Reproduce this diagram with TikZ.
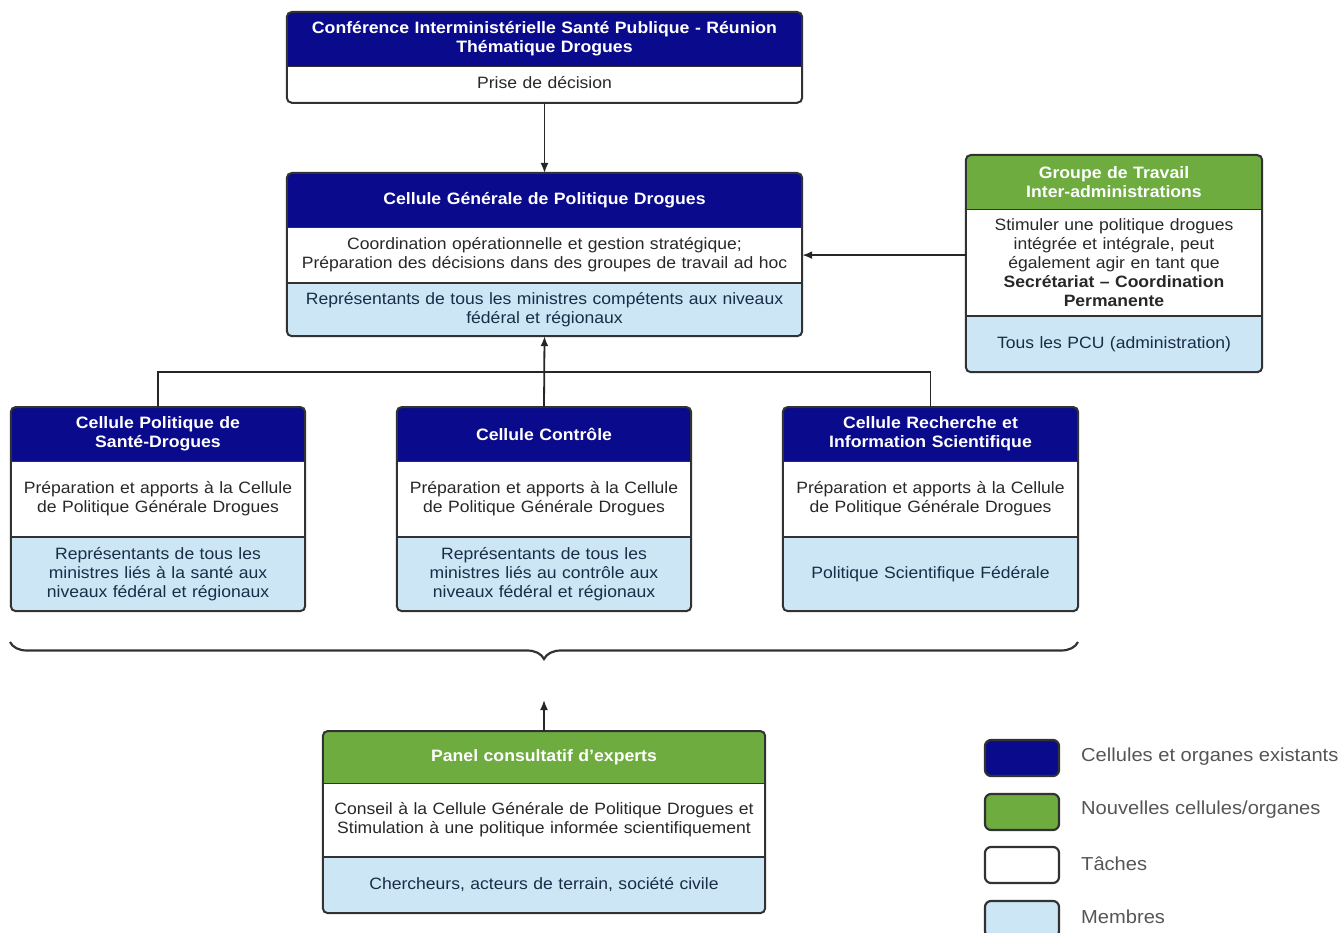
\documentclass[tikz,border=0pt]{standalone}
\usepackage{fontspec}
\setmainfont{Liberation Sans}[FakeStretch=1.07]
\usetikzlibrary{arrows.meta,decorations.pathreplacing,backgrounds}
\definecolor{hdrblue}{RGB}{10,10,140}
\definecolor{hdrgreen}{RGB}{110,172,64}
\definecolor{lblue}{RGB}{204,230,246}
\definecolor{edge}{RGB}{50,50,50}
\definecolor{taskc}{RGB}{40,40,40}
\definecolor{membc}{RGB}{25,45,70}
\definecolor{legc}{RGB}{85,85,85}
\tikzset{
 sec/.style={inner sep=0pt, align=center, anchor=north, font=\fontsize{16.4}{19}\selectfont},
 hdr/.style={sec, text=white, font=\bfseries\fontsize{16.5}{19}\selectfont},
 task/.style={sec, text=taskc},
 memb/.style={sec, text=membc},
 boxline/.style={draw=edge, line width=2pt, rounded corners=5pt},
 sepline/.style={draw=edge, line width=1.6pt},
 conn/.style={draw=black!85, line width=1.8pt},
 arr/.style={conn, -{Latex[length=10pt,width=8pt]}},
 legbox/.style={draw=edge, line width=2.2pt, rounded corners=6pt, minimum width=74, minimum height=36, inner sep=0pt},
 legtxt/.style={anchor=west, inner sep=0pt, text=legc, font=\fontsize{18.8}{22}\selectfont},
}
% three-part box: #1 name, #2 header colour
\newcommand\cellthree[2]{%
 \begin{pgfonlayer}{background}
  \fill[lblue, rounded corners=5pt] (#1.north west) rectangle (#1-m.south east);
  \fill[#2, rounded corners=5pt] (#1.north west) rectangle ([yshift=-8pt]#1.south east);
  \fill[white] (#1-t.north west) rectangle (#1-t.south east);
 \end{pgfonlayer}
 \draw[boxline] (#1.north west) rectangle (#1-m.south east);
 \draw[sepline] (#1.south west) -- (#1.south east);
 \draw[sepline] (#1-t.south west) -- (#1-t.south east);
}
\newcommand\celltwo[2]{%
 \begin{pgfonlayer}{background}
  \fill[white, rounded corners=5pt] (#1.north west) rectangle (#1-t.south east);
  \fill[#2, rounded corners=5pt] (#1.north west) rectangle ([yshift=-8pt]#1.south east);
  \fill[white] (#1-t.north west) rectangle ([yshift=2pt]#1-t.south east);
 \end{pgfonlayer}
 \draw[boxline] (#1.north west) rectangle (#1-t.south east);
 \draw[sepline] (#1.south west) -- (#1.south east);
}
\begin{document}
\begin{tikzpicture}[x=1pt,y=-1pt]
\useasboundingbox (0,0) rectangle (1344,933);

% Top box
\node[hdr, minimum width=515, minimum height=54, text width=505] (conf) at (544.5,12)
 {Conférence Interministérielle Santé Publique - Réunion\\Thématique Drogues};
\node[task, minimum width=515, minimum height=36, text width=505] (conf-t) at (conf.south) {\raisebox{4pt}{Prise de décision}};
\celltwo{conf}{hdrblue}

% Central box
\node[hdr, minimum width=515, minimum height=54, text width=505] (cg) at (544.5,173)
 {Cellule Générale de Politique Drogues};
\node[task, minimum width=515, minimum height=55, text width=511] (cg-t) at (cg.south)
 {Coordination opérationnelle et gestion stratégique;\\Préparation des décisions dans des groupes de travail ad hoc};
\node[memb, minimum width=515, minimum height=53, text width=511] (cg-m) at (cg-t.south)
 {Représentants de tous les ministres compétents aux niveaux\\fédéral et régionaux};
\cellthree{cg}{hdrblue}

% Green working group
\node[hdr, minimum width=296, minimum height=54, text width=290] (grp) at (1114,155)
 {Groupe de Travail\\Inter-administrations};
\node[task, minimum width=296, minimum height=106, text width=290] (grp-t) at (grp.south)
 {Stimuler une politique drogues\\intégrée et intégrale, peut\\également agir en tant que\\\textbf{Secrétariat – Coordination}\\\textbf{Permanente}};
\node[memb, minimum width=296, minimum height=56, text width=290] (grp-m) at (grp-t.south)
 {Tous les PCU (administration)};
\cellthree{grp}{hdrgreen}

% Three cells
\node[hdr, minimum width=294, minimum height=54, text width=288] (cps) at (158,407)
 {Cellule Politique de\\Santé-Drogues};
\node[task, minimum width=294, minimum height=75, text width=288] (cps-t) at (cps.south)
 {Préparation et apports à la Cellule\\de Politique Générale Drogues};
\node[memb, minimum width=294, minimum height=74, text width=288] (cps-m) at (cps-t.south)
 {Représentants de tous les\\ministres liés à la santé aux\\niveaux fédéral et régionaux};
\cellthree{cps}{hdrblue}

\node[hdr, minimum width=294, minimum height=54, text width=288] (cc) at (544,407)
 {Cellule Contrôle};
\node[task, minimum width=294, minimum height=75, text width=288] (cc-t) at (cc.south)
 {Préparation et apports à la Cellule\\de Politique Générale Drogues};
\node[memb, minimum width=294, minimum height=74, text width=288] (cc-m) at (cc-t.south)
 {Représentants de tous les\\ministres liés au contrôle aux\\niveaux fédéral et régionaux};
\cellthree{cc}{hdrblue}

\node[hdr, minimum width=295, minimum height=54, text width=289] (cri) at (930.5,407)
 {Cellule Recherche et\\Information Scientifique};
\node[task, minimum width=295, minimum height=75, text width=289] (cri-t) at (cri.south)
 {Préparation et apports à la Cellule\\de Politique Générale Drogues};
\node[memb, minimum width=295, minimum height=74, text width=289] (cri-m) at (cri-t.south)
 {Politique Scientifique Fédérale};
\cellthree{cri}{hdrblue}

% Panel
\node[hdr, minimum width=442, minimum height=52, text width=436] (pan) at (544,731)
 {Panel consultatif d'experts};
\node[task, minimum width=442, minimum height=73, text width=438] (pan-t) at (pan.south)
 {Conseil à la Cellule Générale de Politique Drogues et\\Stimulation à une politique informée scientifiquement};
\node[memb, minimum width=442, minimum height=56, text width=436] (pan-m) at (pan-t.south)
 {Chercheurs, acteurs de terrain, société civile};
\cellthree{pan}{hdrgreen}

% Connectors
\draw[arr] (conf-t.south) -- (cg.north);
\draw[arr] (cg-t.east -| grp.west) -- (cg-t.east);
\coordinate (jn) at (544,372);
\draw[conn] (cps.north) |- (jn) -| (cri.north);
\draw[arr] (cc.north) -- (cg-m.south);

% Brace
\coordinate (bl) at (10,642);
\coordinate (br) at (1078,642);
\draw[draw=edge, line width=2.2pt, decorate, decoration={brace, mirror, amplitude=17pt}] (bl) -- (br);
\coordinate (btip) at (544,700);
\draw[arr] (pan.north) -- (btip);

% Legend
\node[legbox, fill=hdrblue] (lg1) at (1022,758) {};
\node[legbox, fill=hdrgreen] (lg2) at (1022,812) {};
\node[legbox, fill=white] (lg3) at (1022,865) {};
\node[legbox, fill=lblue] (lg4) at (1022,919) {};
\node[legtxt] (lt1) at (1081,757) {Cellules et organes existants};
\node[legtxt] (lt2) at (1081,810) {Nouvelles cellules/organes};
\node[legtxt] (lt3) at (1081,864) {Tâches};
\node[legtxt] (lt4) at (1081,917) {Membres};
\end{tikzpicture}
\end{document}
